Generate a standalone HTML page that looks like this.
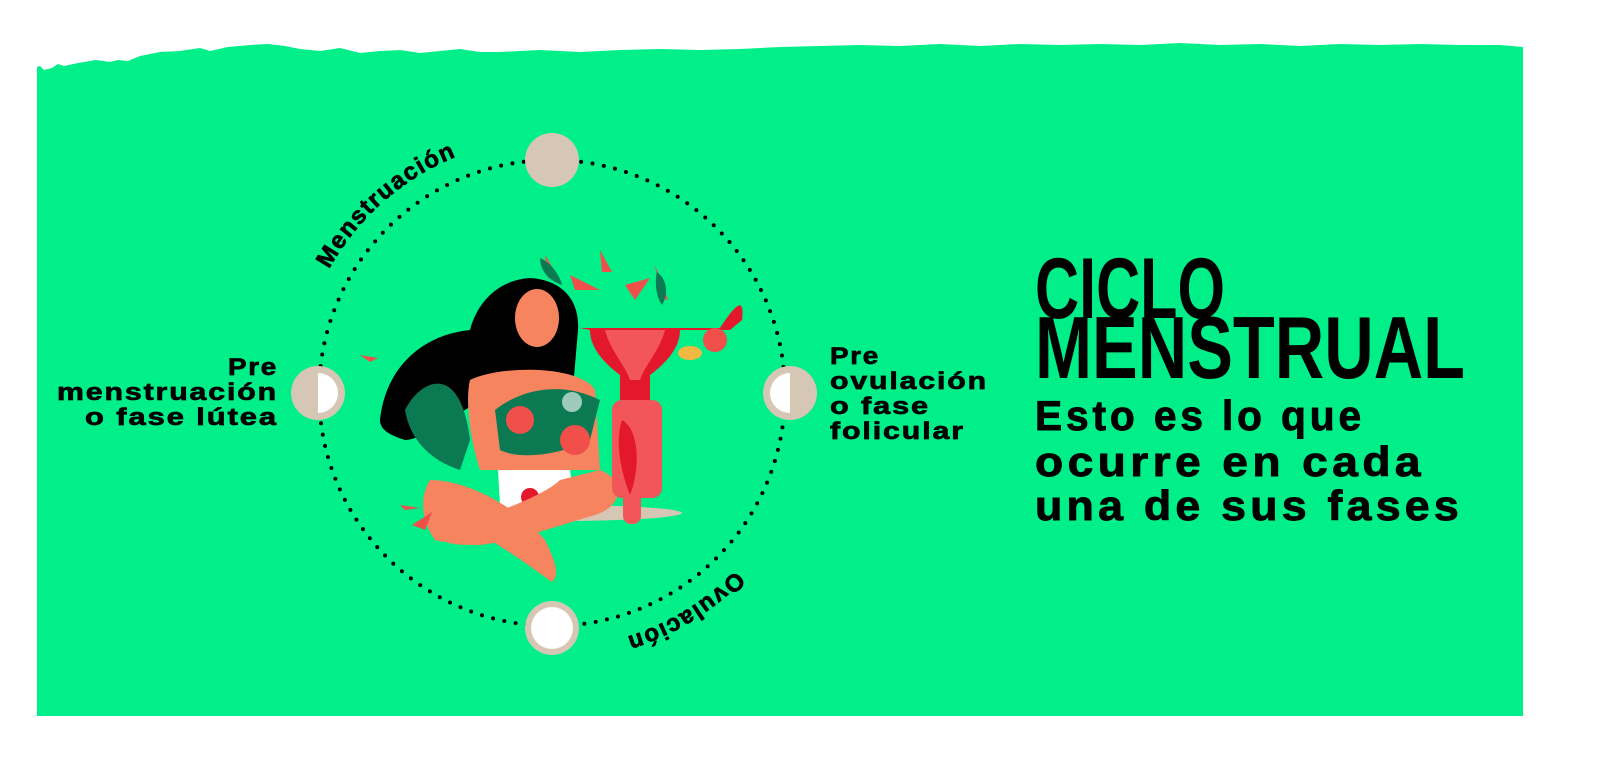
<!DOCTYPE html>
<html><head><meta charset="utf-8"><style>
html,body{margin:0;padding:0;background:#fff;width:1600px;height:765px;overflow:hidden}
svg{display:block}
.lbl{font-family:"Liberation Sans",sans-serif;font-weight:bold;font-size:24px;letter-spacing:1.5px;fill:#000;stroke:#000;stroke-width:0.7}
.sub{font-family:"Liberation Sans",sans-serif;font-weight:bold;font-size:42px;letter-spacing:4px;fill:#000;stroke:#000;stroke-width:0.9}
.tt{font-family:"Liberation Sans Narrow","Liberation Sans",sans-serif;font-weight:bold;fill:#000}
</style></head><body>
<svg width="1600" height="765" viewBox="0 0 1600 765">
<path d="M37 67 L40 66 L44 70 L52 68 L58 64 L64 66 L78 63 L96 60 L110 62 L118 60 L128 61 L140 56 L150 54 L160 52 L180 51 L200 48 L210 51 L228 47 L250 45 L268 44 L285 46 L300 49 L320 51 L340 48 L360 53 L380 51 L400 50 L420 53 L440 51 L460 49 L480 52 L500 52 L540 50 L580 52 L620 50 L660 49 L700 50 L740 49 L780 47 L820 46 L860 45 L900 46 L940 44 L980 46 L1020 44 L1060 45 L1100 44 L1140 45 L1180 43 L1220 45 L1260 44 L1300 46 L1340 44 L1380 45 L1420 44 L1460 45 L1500 45 L1523 47 L1523 716 L37 716 Z" fill="#00ef89"/>
<circle cx="552" cy="393" r="233" fill="none" stroke="#000" stroke-width="4" stroke-linecap="round" stroke-dasharray="0 11.5"/>
<ellipse cx="560" cy="513" rx="122" ry="8" fill="#d6c6b4"/>
<path d="M380 420 C385 370 420 335 470 330 C478 300 500 280 530 278 C562 280 580 300 578 330 L572 400 L480 400 C450 420 420 440 405 440 C390 435 380 430 380 420Z" fill="#000"/>
<path d="M405 410 C420 380 460 360 470 440 L460 470 C430 460 410 440 405 410Z" fill="#0b7a53"/>
<ellipse cx="537" cy="318" rx="22" ry="29" fill="#f5845f"/>
<path d="M470 380 C500 365 580 365 595 390 L600 470 L480 470 C470 440 465 400 470 380Z" fill="#f5845f"/>
<path d="M498 470 L570 470 L575 505 L530 525 L500 505Z" fill="#fff"/>
<circle cx="530" cy="497" r="9" fill="#e3182d"/>
<path d="M430 480 C470 480 520 510 545 540 C555 560 560 575 552 582 C535 570 515 555 490 540 C470 540 450 545 435 540 C420 520 420 495 430 480Z" fill="#f5845f"/>
<path d="M600 470 C625 480 625 505 595 515 C560 525 520 540 480 545 C460 545 440 545 440 535 C470 520 540 500 560 480Z" fill="#f5845f"/>
<path d="M495 410 C520 390 560 380 600 400 L590 440 C560 455 520 460 500 450Z" fill="#0b7a53"/>
<circle cx="520" cy="420" r="14" fill="#f04f4a"/><circle cx="575" cy="440" r="15" fill="#f04f4a"/>
<circle cx="572" cy="402" r="10" fill="#fff" opacity=".6"/>
<path d="M580 328 L720 328 C735 305 745 295 742 320 L730 330 L680 330 C680 345 670 360 650 375 L650 400 L620 400 L620 375 C600 360 590 345 590 330Z" fill="#e3182d"/>
<path d="M605 330 L665 330 C660 350 645 365 640 380 L630 380 C625 365 610 350 605 330Z" fill="#f2555a"/>
<rect x="612" y="400" width="50" height="98" rx="10" fill="#f2555a"/>
<rect x="623" y="400" width="18" height="124" rx="8" fill="#f2555a"/>
<path d="M622 420 C640 430 640 470 630 495 C620 470 615 440 622 420Z" fill="#e3182d"/>
<circle cx="715" cy="340" r="12" fill="#f04f4a"/><ellipse cx="690" cy="353" rx="12" ry="7" fill="#f3b83f"/>
<path d="M545 255 L560 280 L548 278Z M600 250 L612 272 L602 272Z M655 265 L668 300 L660 298Z M570 275 L600 290 L575 290Z M625 285 L650 278 L635 300Z" fill="#f04f4a"/>
<path d="M540 258 C550 262 560 275 562 285 C548 280 540 270 540 258Z M657 272 C668 280 668 295 662 305 C655 295 655 280 657 272Z" fill="#0b7a53"/>
<path d="M360 355 L378 358 L370 362Z M412 525 L432 512 L425 530Z M400 505 L420 508 L405 510Z" fill="#f04f4a"/>
<circle cx="552" cy="160" r="27" fill="#d6c6b4"/>
<circle cx="318" cy="393" r="27" fill="#d6c6b4"/>
<path d="M318 373 A20 20 0 0 1 318 413 Z" fill="#fff"/>
<circle cx="790" cy="393" r="27" fill="#d6c6b4"/>
<path d="M790 373 A20 20 0 0 0 790 413 Z" fill="#fff"/>
<circle cx="552" cy="628" r="27" fill="#d6c6b4"/>
<circle cx="552" cy="628" r="21" fill="#fff"/>
<defs><path id="arc" d="M807 393 A255 255 0 1 1 297 393 A255 255 0 1 1 807 393"/></defs>
<text class="lbl" font-size="26" letter-spacing="2.5"><textPath href="#arc" startOffset="930">Menstruación</textPath></text>
<text class="lbl" font-size="26" letter-spacing="2.5"><textPath href="#arc" startOffset="196">Ovulación</textPath></text>
<text class="lbl" text-anchor="end" x="278" y="375" textLength="50" lengthAdjust="spacingAndGlyphs">Pre</text>
<text class="lbl" text-anchor="end" x="278" y="400" textLength="221" lengthAdjust="spacingAndGlyphs">menstruación</text>
<text class="lbl" text-anchor="end" x="278" y="425" textLength="193" lengthAdjust="spacingAndGlyphs">o fase lútea</text>
<text class="lbl" x="830" y="364" textLength="50" lengthAdjust="spacingAndGlyphs">Pre</text>
<text class="lbl" x="830" y="389" textLength="158" lengthAdjust="spacingAndGlyphs">ovulación</text>
<text class="lbl" x="830" y="414" textLength="100" lengthAdjust="spacingAndGlyphs">o fase</text>
<text class="lbl" x="830" y="439" textLength="135" lengthAdjust="spacingAndGlyphs">folicular</text>
<text class="tt" x="1035" y="318" font-size="86" textLength="190" lengthAdjust="spacingAndGlyphs">CICLO</text>
<text class="tt" x="1035" y="378" font-size="88" textLength="430" lengthAdjust="spacingAndGlyphs">MENSTRUAL</text>
<text class="sub" x="1035" y="430" textLength="330" lengthAdjust="spacingAndGlyphs">Esto es lo que</text>
<text class="sub" x="1035" y="476" textLength="390" lengthAdjust="spacingAndGlyphs">ocurre en cada</text>
<text class="sub" x="1035" y="520" textLength="428" lengthAdjust="spacingAndGlyphs">una de sus fases</text>
</svg>
</body></html>
